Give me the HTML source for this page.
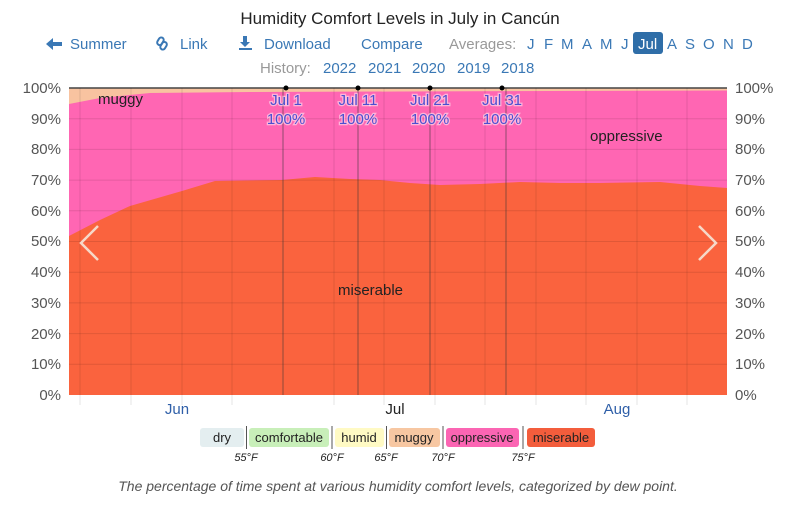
<!DOCTYPE html>
<html><head><meta charset="utf-8"><style>
body{margin:0;width:800px;height:500px;background:#fff;font-family:"Liberation Sans",sans-serif;overflow:hidden}
</style></head><body>
<svg width="800" height="500" xmlns="http://www.w3.org/2000/svg" font-family="Liberation Sans, sans-serif">
<text x="400" y="24" text-anchor="middle" font-size="17" fill="#222">Humidity Comfort Levels in July in Cancún</text>
<g fill="#3a78b5" stroke="#3a78b5">
<path d="M46,44 L53,38 L53,42 L62,42 L62,46 L53,46 L53,50 Z" stroke="none"/>
<g fill="none" stroke-width="2"><rect x="156" y="39" width="8" height="5" rx="2.5" transform="rotate(-60 160 41)"/><rect x="160" y="43" width="8" height="5" rx="2.5" transform="rotate(-60 164 46)"/></g>
<path d="M243,36 L247,36 L247,42 L250,42 L245,47 L240,42 L243,42 Z" stroke="none"/>
<rect x="239" y="48" width="13" height="2" stroke="none"/>
</g>
<g font-size="15" fill="#3a78b5">
<text x="70" y="49">Summer</text>
<text x="180" y="49">Link</text>
<text x="264" y="49">Download</text>
<text x="361" y="49">Compare</text>
<text x="449" y="49" fill="#999">Averages:</text>
<text x="527" y="49">J</text><text x="544" y="49">F</text><text x="561" y="49">M</text><text x="582" y="49">A</text><text x="600" y="49">M</text><text x="621" y="49">J</text>
<rect x="633" y="32" width="30" height="22" rx="3" fill="#2f6ea8"/>
<text x="638" y="49" fill="#fff">Jul</text>
<text x="667" y="49">A</text><text x="685" y="49">S</text><text x="703" y="49">O</text><text x="723" y="49">N</text><text x="742" y="49">D</text>
<text x="260" y="73" fill="#999">History:</text>
<text x="323" y="73">2022</text><text x="368" y="73">2021</text><text x="412" y="73">2020</text><text x="457" y="73">2019</text><text x="501" y="73">2018</text>
</g>
<rect x="69" y="88" width="658" height="307" fill="#f8c3a0"/>
<path d="M69,104 L100,98 L150,93 L250,92 L400,91.5 L727,90.5 L727,395 L69,395Z" fill="#ff66b3"/>
<path d="M69,236 L100,220 L130,206 L182,191 L215,181 L282,180 L315,177 L350,179 L380,180 L410,183 L440,185 L480,184 L520,182 L560,183 L600,183 L660,182 L700,186 L727,188 L727,395 L69,395Z" fill="#fa633e"/>
<line x1="69" y1="88" x2="727" y2="88" stroke="#444" stroke-width="1.5"/>
<g stroke="#000" stroke-opacity="0.1">
<line x1="69" y1="118.7" x2="727" y2="118.7"/><line x1="69" y1="149.4" x2="727" y2="149.4"/><line x1="69" y1="180.1" x2="727" y2="180.1"/><line x1="69" y1="210.8" x2="727" y2="210.8"/><line x1="69" y1="241.5" x2="727" y2="241.5"/><line x1="69" y1="272.2" x2="727" y2="272.2"/><line x1="69" y1="302.9" x2="727" y2="302.9"/><line x1="69" y1="333.6" x2="727" y2="333.6"/><line x1="69" y1="364.3" x2="727" y2="364.3"/>
<line x1="80" y1="88" x2="80" y2="405"/><line x1="131" y1="88" x2="131" y2="405"/><line x1="182" y1="88" x2="182" y2="405"/><line x1="232" y1="88" x2="232" y2="405"/><line x1="334" y1="88" x2="334" y2="405"/><line x1="384" y1="88" x2="384" y2="405"/><line x1="435" y1="88" x2="435" y2="405"/><line x1="485" y1="88" x2="485" y2="405"/><line x1="536" y1="88" x2="536" y2="405"/><line x1="586" y1="88" x2="586" y2="405"/><line x1="637" y1="88" x2="637" y2="405"/><line x1="687" y1="88" x2="687" y2="405"/>
</g>
<g stroke="#333" stroke-width="1" stroke-opacity="0.55">
<line x1="283" y1="88" x2="283" y2="395"/><line x1="358" y1="88" x2="358" y2="395"/><line x1="430" y1="88" x2="430" y2="395"/><line x1="506" y1="88" x2="506" y2="395"/>
</g>
<g fill="#000"><circle cx="286" cy="88" r="2.5"/><circle cx="358" cy="88" r="2.5"/><circle cx="430" cy="88" r="2.5"/><circle cx="502" cy="88" r="2.5"/></g>
<g font-size="15" fill="#4a4fd0" text-anchor="middle" stroke="#fff" stroke-width="2.5" paint-order="stroke" stroke-opacity="0.5">
<text x="286" y="105">Jul 1</text><text x="286" y="124">100%</text>
<text x="358" y="105">Jul 11</text><text x="358" y="124">100%</text>
<text x="430" y="105">Jul 21</text><text x="430" y="124">100%</text>
<text x="502" y="105">Jul 31</text><text x="502" y="124">100%</text>
</g>
<text x="98" y="104" font-size="15" fill="#222">muggy</text>
<text x="590" y="141" font-size="15" fill="#222">oppressive</text>
<text x="338" y="295" font-size="15" fill="#222">miserable</text>
<g fill="none" stroke="#f6d8c8" stroke-width="2.5"><polyline points="98,226 81,243 98,260"/><polyline points="699,226 716,243 699,260"/></g>
<g font-size="15" fill="#555">
<g text-anchor="end">
<text x="61" y="93">100%</text><text x="61" y="124">90%</text><text x="61" y="154">80%</text><text x="61" y="185">70%</text><text x="61" y="216">60%</text><text x="61" y="246">50%</text><text x="61" y="277">40%</text><text x="61" y="308">30%</text><text x="61" y="339">20%</text><text x="61" y="369">10%</text><text x="61" y="400">0%</text>
</g>
<text x="735" y="93">100%</text><text x="735" y="124">90%</text><text x="735" y="154">80%</text><text x="735" y="185">70%</text><text x="735" y="216">60%</text><text x="735" y="246">50%</text><text x="735" y="277">40%</text><text x="735" y="308">30%</text><text x="735" y="339">20%</text><text x="735" y="369">10%</text><text x="735" y="400">0%</text>
</g>
<g font-size="15" text-anchor="middle">
<text x="177" y="414" fill="#2f5fa8">Jun</text><text x="395" y="414" fill="#222">Jul</text><text x="617" y="414" fill="#2f5fa8">Aug</text>
</g>
<g font-size="13" fill="#222">
<rect x="200" y="428" width="44" height="19" rx="3" fill="#e4eef0"/><text x="222" y="442" text-anchor="middle">dry</text>
<rect x="249" y="428" width="80" height="19" rx="3" fill="#c8efb9"/><text x="289" y="442" text-anchor="middle">comfortable</text>
<rect x="335" y="428" width="49" height="19" rx="3" fill="#fffac4"/><text x="359" y="442" text-anchor="middle">humid</text>
<rect x="389" y="428" width="51" height="19" rx="3" fill="#f7c7a2"/><text x="414" y="442" text-anchor="middle">muggy</text>
<rect x="446" y="428" width="73" height="19" rx="3" fill="#fb65b3"/><text x="482" y="442" text-anchor="middle">oppressive</text>
<rect x="527" y="428" width="68" height="19" rx="3" fill="#f35d3c"/><text x="561" y="442" text-anchor="middle">miserable</text>
<g stroke="#555"><line x1="246.5" y1="426" x2="246.5" y2="449"/><line x1="332" y1="426" x2="332" y2="449"/><line x1="386.5" y1="426" x2="386.5" y2="449"/><line x1="443" y1="426" x2="443" y2="449"/><line x1="523" y1="426" x2="523" y2="449"/></g>
</g>
<g font-size="11" font-style="italic" fill="#222" text-anchor="middle">
<text x="246" y="461">55°F</text><text x="332" y="461">60°F</text><text x="386" y="461">65°F</text><text x="443" y="461">70°F</text><text x="523" y="461">75°F</text>
</g>
<text x="398" y="491" font-size="14" font-style="italic" fill="#555" text-anchor="middle">The percentage of time spent at various humidity comfort levels, categorized by dew point.</text>
</svg>
</body></html>
